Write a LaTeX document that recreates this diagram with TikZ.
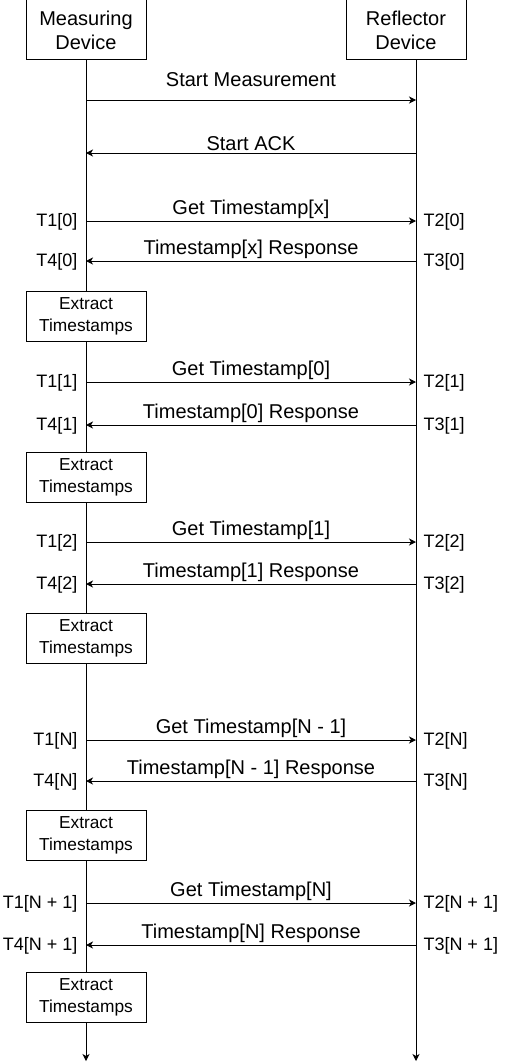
\documentclass[tikz,border=0pt]{standalone}
\usepackage{fontspec}
\setmainfont{Liberation Sans}
\usetikzlibrary{arrows.meta}

\begin{document}
\begin{tikzpicture}[x=0.75pt, y=-0.75pt, line width=0.75pt,
  actor/.style={draw, fill=white, minimum width=90pt, minimum height=45pt, inner sep=0pt, align=center, font=\fontsize{15}{18}\selectfont},
  extract/.style={draw, fill=white, minimum width=90pt, minimum height=37.5pt, inner sep=0pt, align=center, font=\fontsize{13}{16.5}\selectfont},
  msg/.style={-{Stealth[length=5.25pt, width=5.25pt, inset=1.5pt]}},
  msglbl/.style={anchor=base, inner sep=0pt, font=\fontsize{15}{17}\selectfont},
  tleft/.style={anchor=base east, inner sep=0pt, yshift=-4pt, font=\fontsize{13.5}{16}\selectfont},
  tright/.style={anchor=base west, inner sep=0pt, yshift=-4pt, font=\fontsize{13.5}{16}\selectfont}]
  \useasboundingbox (0,0) rectangle (504,1063);
  % Cabeceras
  \node[actor] (md) at (86,30) {Measuring\\Device};
  \node[actor] (rd) at (406,30) {Reflector\\Device};
  % Lineas de vida
  \coordinate (rdtop) at (416,60);
  \coordinate (mdend) at (86,1061);
  \coordinate (rdend) at (416,1061);
  \draw[msg] (md.south) -- (mdend);
  \draw[msg] (rdtop) -- (rdend);
  % Inicio
  \coordinate (ms) at (86,100);
  \coordinate (rs) at (416,100);
  \coordinate (ma) at (86,153);
  \coordinate (ra) at (416,153);
  \draw[msg] (ms) -- node[msglbl, yshift=9.75pt] {Start Measurement} (rs);
  \draw[msg] (ra) -- node[msglbl, yshift=2.25pt] {Start ACK} (ma);
  % Intercambios de timestamps
  \foreach \i/\yg/\yr/\yb/\k/\j in {1/221/261/316/0/x, 2/382/425/477/1/0, 3/542/584/638/2/1, 4/740/781/835/N/{N - 1}, 5/903/945/997/{N + 1}/N} {
    \coordinate (mg\i) at (86,\yg);
    \coordinate (rg\i) at (416,\yg);
    \coordinate (mr\i) at (86,\yr);
    \coordinate (rr\i) at (416,\yr);
    \draw[msg] (mg\i) -- node[msglbl, yshift=5pt] {Get Timestamp[\j]} (rg\i);
    \draw[msg] (rr\i) -- node[msglbl, yshift=5pt] {Timestamp[\j] Response} (mr\i);
    \node[tleft] (ta\i) at (78,\yg) {T1[\k]};
    \node[tleft] (td\i) at (78,\yr) {T4[\k]};
    \node[tright] (tb\i) at (423,\yg) {T2[\k]};
    \node[tright] (tc\i) at (423,\yr) {T3[\k]};
    \node[extract] (ex\i) at (86,\yb) {Extract\\Timestamps};
  }
\end{tikzpicture}
\end{document}
